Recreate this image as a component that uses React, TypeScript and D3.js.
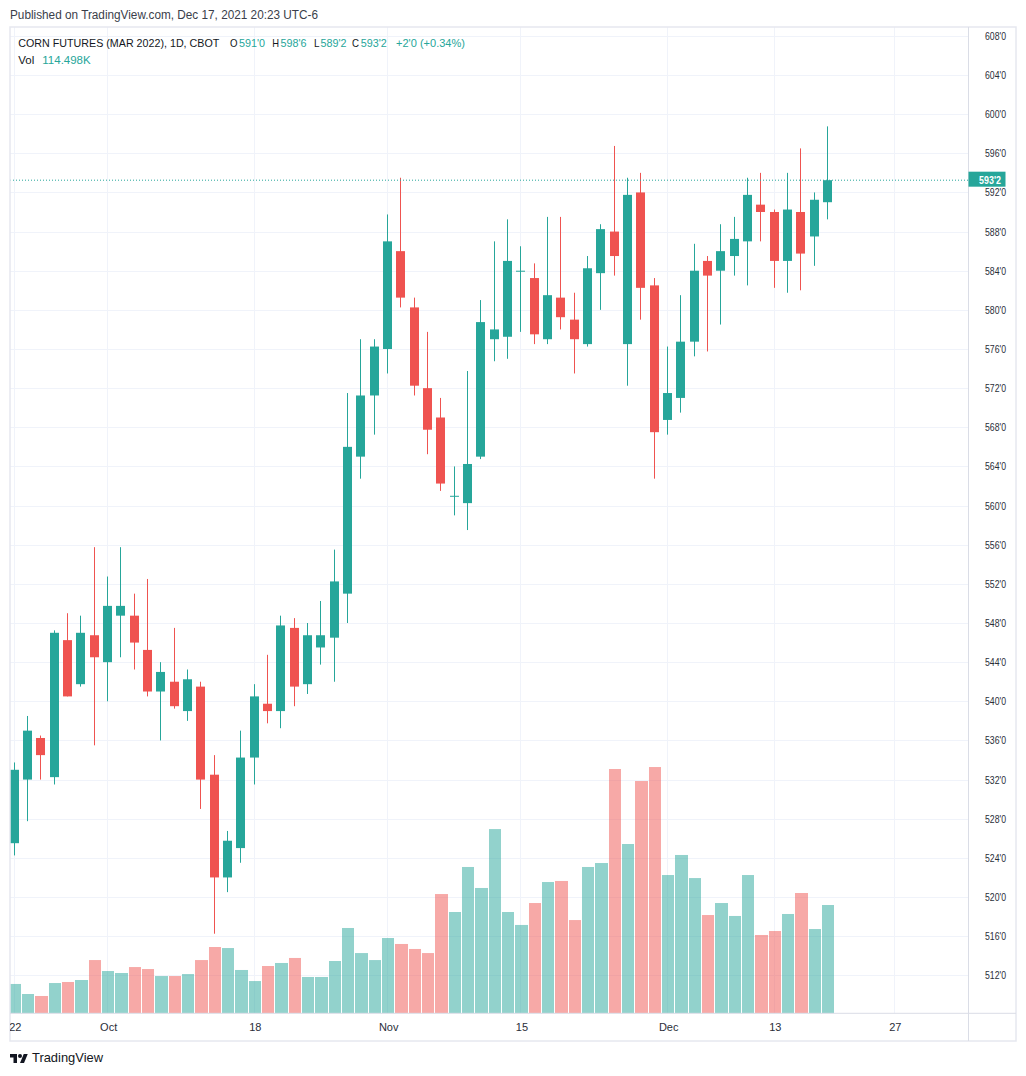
import React from 'react'
import * as d3 from 'd3'

// CBOT corn futures, March 2022 contract, daily bars (cents, quarters)
const dates = [
  '2021-09-22', '2021-09-23', '2021-09-24', '2021-09-27', '2021-09-28', '2021-09-29', '2021-09-30',
  '2021-10-01', '2021-10-04', '2021-10-05', '2021-10-06', '2021-10-07', '2021-10-08', '2021-10-11',
  '2021-10-12', '2021-10-13', '2021-10-14', '2021-10-15', '2021-10-18', '2021-10-19', '2021-10-20',
  '2021-10-21', '2021-10-22', '2021-10-25', '2021-10-26', '2021-10-27', '2021-10-28', '2021-10-29',
  '2021-11-01', '2021-11-02', '2021-11-03', '2021-11-04', '2021-11-05', '2021-11-08', '2021-11-09',
  '2021-11-10', '2021-11-11', '2021-11-12', '2021-11-15', '2021-11-16', '2021-11-17', '2021-11-18',
  '2021-11-19', '2021-11-22', '2021-11-23', '2021-11-24', '2021-11-26', '2021-11-29', '2021-11-30',
  '2021-12-01', '2021-12-02', '2021-12-03', '2021-12-06', '2021-12-07', '2021-12-08', '2021-12-09',
  '2021-12-10', '2021-12-13', '2021-12-14', '2021-12-15', '2021-12-16', '2021-12-17',
]

const opens = [
  525.5, 532, 536.25, 532.25, 546.25, 541.75, 546.75, 544, 548.75, 548.75, 545.25, 541, 542, 539,
  541.5, 532.5, 522, 525, 534.25, 539.75, 539, 547.5, 541.75, 545.5, 546.5, 551, 565, 571.25,
  576, 586, 580.25, 572, 569, 561, 560.25, 565, 577, 577.25, 584, 583.25, 577, 581.25,
  579, 576.5, 583.75, 588, 576.5, 592, 582.5, 568.75, 571, 576.75, 585, 584, 585.5, 587,
  590.75, 590, 585, 590, 587.5, 591,
]
const highs = [
  533.75, 538.5, 536.5, 547.25, 549, 548.75, 555.75, 552.75, 555.75, 551, 552.5, 544, 547.5, 543.25,
  542, 534.5, 526.75, 537, 541.75, 544.75, 548.75, 548.5, 548, 550.25, 555.5, 571.5, 577, 577,
  589.75, 593.5, 581.25, 577.75, 571, 564, 573.75, 581, 587, 589.25, 586.5, 584.75, 589.5, 589.5,
  581.75, 585.5, 588.75, 596.75, 593.5, 594, 583.25, 576.25, 581.5, 586.75, 585.5, 588.75, 589.5, 593.5,
  594, 590.25, 594, 596.5, 592, 598.75,
]
const lows = [
  524.25, 527.75, 532, 531.5, 540.5, 541.5, 535.5, 540, 544.5, 543.25, 540.5, 536, 539.25, 538,
  529, 516.25, 520.5, 523.5, 531.5, 537.75, 537.25, 539.5, 540.75, 543.75, 542, 548, 562.75, 567.25,
  573.5, 580.25, 571.25, 565.25, 561.5, 559, 557.5, 564.75, 574.75, 575, 577.75, 576.5, 576.5, 578,
  573.5, 576.25, 580, 583.5, 572.25, 579, 562.75, 567.25, 569.5, 575.25, 575.75, 578.5, 583.5, 582.5,
  587, 582.25, 581.75, 582, 584.5, 589.25,
]
const closes = [
  533, 537, 534.5, 547, 540.5, 547, 544.5, 549.75, 549.75, 546, 541, 543, 539.5, 542.25,
  532, 522, 525.75, 534.25, 540.5, 539, 547.75, 541.5, 546.75, 546.75, 552.25, 566, 571.25, 576.25,
  587, 581.25, 572.25, 567.75, 562.25, 561, 564.25, 578.75, 578, 585, 584, 577.5, 581.5, 579.25,
  577, 584.25, 588.25, 585.5, 591.75, 582.25, 567.5, 571.5, 576.75, 584, 583.5, 586, 587.25, 591.75,
  590, 585, 590.25, 585.75, 591.25, 593.25,
]
// volume, thousands of contracts
const volumes = [
  31.0, 20.4, 18.3, 32.0, 33.1, 35.2, 56.3, 44.7, 42.6, 48.9, 46.8, 39.4, 39.4, 41.5,
  56.3, 70.1, 69.0, 45.8, 34.1, 50.0, 53.2, 58.5, 38.4, 38.4, 55.3, 90.2, 63.7, 56.3,
  79.6, 73.3, 68.0, 63.7, 126.1, 107.1, 154.7, 132.5, 194.8, 107.1, 93.4, 116.6, 138.8, 139.9,
  98.6, 154.7, 158.9, 258.3, 179.0, 245.6, 260.4, 146.2, 167.4, 143.0, 103.9, 116.6, 102.9, 146.2,
  82.8, 87.0, 105.0, 127.2, 89.1, 114.498,
]

const priceTicks = [512, 516, 520, 524, 528, 532, 536, 540, 544, 548, 552, 556, 560, 564, 568, 572, 576, 580, 584, 588, 592, 596, 600, 604, 608]
const dateTickLabels = ['22', 'Oct', '18', 'Nov', '15', 'Dec', '13', '27']
const dateTickIndex = [0, 7, 18, 28, 38, 49, 57, 66]

const UP = '#26a69a'
const DOWN = '#ef5350'
const INK = '#131722'
const FONT = '"Liberation Sans", Arial, sans-serif'

// 593.25 -> 593'2
const fmt = (p: number) => {
  const whole = Math.floor(p)
  return `${whole}'${Math.round((p - whole) * 8)}`
}

export default function App() {
  const left = 10
  const top = 27
  const axisX = 968
  const axisY = 1013.3
  const right = 1016
  const bottom = 1041

  const x = d3.scaleLinear().domain([0, 66]).range([14.33, 894.33])
  const y = d3.scaleLinear().domain([512, 608]).range([975.3, 35.85])
  const v = d3.scaleLinear().domain([0, 260]).range([axisY, 767.4])
  const step = x(1) - x(0)

  const n = closes.length
  const last = n - 1
  const chg = closes[last] - closes[last - 1]
  const pct = (chg / closes[last - 1]) * 100

  // legend pieces: [text, colour, x, width]
  const legend: [string, string, number, number][] = [
    ['CORN FUTURES (MAR 2022), 1D, CBOT', INK, 18.3, 201],
    ['O', INK, 230, 7.5],
    [fmt(opens[last]), UP, 239, 26],
    ['H', INK, 272.3, 6.8],
    [fmt(highs[last]), UP, 280.6, 26],
    ['L', INK, 314, 5.5],
    [fmt(lows[last]), UP, 320.5, 26],
    ['C', INK, 352, 7],
    [fmt(closes[last]), UP, 360.8, 26],
    [`+${fmt(chg)} (+${pct.toFixed(2)}%)`, UP, 396, 69],
  ]

  return (
    <svg width={1026} height={1076} style={{ position: 'absolute', left: 0, top: 0, background: '#fff' }} fontFamily={FONT}>
      <defs>
        <clipPath id="plot">
          <rect x={left} y={top} width={axisX - left} height={axisY - top} />
        </clipPath>
        <clipPath id="xaxis">
          <rect x={left} y={axisY} width={axisX - left} height={bottom - axisY} />
        </clipPath>
      </defs>

      <rect x={0} y={0} width={1026} height={1076} fill="#fff" />

      <text x={10} y={19} fontSize={12} fill="#3a3e4a" textLength={308} lengthAdjust="spacingAndGlyphs">
        Published on TradingView.com, Dec 17, 2021 20:23 UTC-6
      </text>

      {/* grid */}
      <g clipPath="url(#plot)">
        {priceTicks.map(t => (
          <line key={t} x1={left} x2={axisX} y1={Math.round(y(t)) + 0.5} y2={Math.round(y(t)) + 0.5} stroke="#f0f3fa" />
        ))}
        {dateTickIndex.map(i => (
          <line key={i} x1={Math.floor(x(i)) + 0.5} x2={Math.floor(x(i)) + 0.5} y1={top} y2={axisY} stroke="#f0f3fa" />
        ))}
      </g>

      {/* volume */}
      <g clipPath="url(#plot)">
        {volumes.map((vol, i) => {
          const cx = x(i)
          const x0 = Math.round(cx - step / 2) + 1
          const x1 = Math.round(cx + step / 2)
          return (
            <rect key={i} x={x0} y={v(vol)} width={x1 - x0} height={axisY - v(vol)}
              fill={closes[i] >= opens[i] ? UP : DOWN} fillOpacity={0.5} />
          )
        })}
      </g>

      {/* candles */}
      <g clipPath="url(#plot)">
        {closes.map((c, i) => {
          const o = opens[i]
          const col = c >= o ? UP : DOWN
          const cx = Math.floor(x(i))
          const bt = y(Math.max(o, c))
          const bb = y(Math.min(o, c))
          return (
            <g key={dates[i]}>
              <rect x={cx} y={y(highs[i])} width={1} height={y(lows[i]) - y(highs[i])} fill={col} />
              <rect x={cx - 4} y={bt} width={9} height={Math.max(1, bb - bt)} fill={col} />
            </g>
          )
        })}
      </g>

      {/* last price line */}
      <line x1={left} x2={axisX} y1={y(closes[last])} y2={y(closes[last])} stroke={UP} strokeDasharray="1 2" />

      {/* frame and axes */}
      <rect x={left} y={top} width={right - left} height={bottom - top} fill="none" stroke="#e6e8ef" strokeWidth={1.5} />
      <line x1={axisX + 0.5} x2={axisX + 0.5} y1={top} y2={bottom} stroke="#dadde6" />
      <line x1={left} x2={right} y1={axisY} y2={axisY} stroke="#dadde6" />

      {priceTicks.map(t => (
        <text key={t} x={995.5} y={y(t) + 4} fontSize={11} fill="#2a2e39" textAnchor="middle" textLength={21} lengthAdjust="spacingAndGlyphs">
          {`${t}'0`}
        </text>
      ))}

      <rect x={968.5} y={y(closes[last]) - 8.5} width={37} height={15} fill={UP} />
      <text x={990} y={y(closes[last]) + 3.5} fontSize={11} fontWeight="bold" fill="#fff" textAnchor="middle" textLength={22} lengthAdjust="spacingAndGlyphs">
        {fmt(closes[last])}
      </text>

      <g clipPath="url(#xaxis)">
        {dateTickIndex.map((idx, k) => (
          <text key={idx} x={x(idx) + 1} y={1031} fontSize={11} fill="#2a2e39" textAnchor="middle">
            {dateTickLabels[k]}
          </text>
        ))}
      </g>

      {/* legend */}
      <text y={46.5} fontSize={11}>
        {legend.map(([t, col, lx, w], k) => (
          <tspan key={k} x={lx} fill={col} textLength={w} lengthAdjust="spacingAndGlyphs">{t}</tspan>
        ))}
      </text>
      <text y={64.3} fontSize={11.5}>
        <tspan x={18.3} fill={INK}>Vol</tspan>
        <tspan x={42.3} fill={UP} textLength={48.4} lengthAdjust="spacingAndGlyphs">{`${volumes[last].toFixed(3)}K`}</tspan>
      </text>

      {/* TradingView logo */}
      <g transform="translate(10,1052) scale(0.5)" fill={INK}>
        <path d="M14 22H7V11H0V4h14v18z" />
        <circle cx={20} cy={8} r={4} />
        <path d="M28 22h-8l7.5-18h8L28 22z" />
      </g>
      <text x={32} y={1062} fontSize={13} fill={INK} textLength={71} lengthAdjust="spacingAndGlyphs">TradingView</text>
    </svg>
  )
}
